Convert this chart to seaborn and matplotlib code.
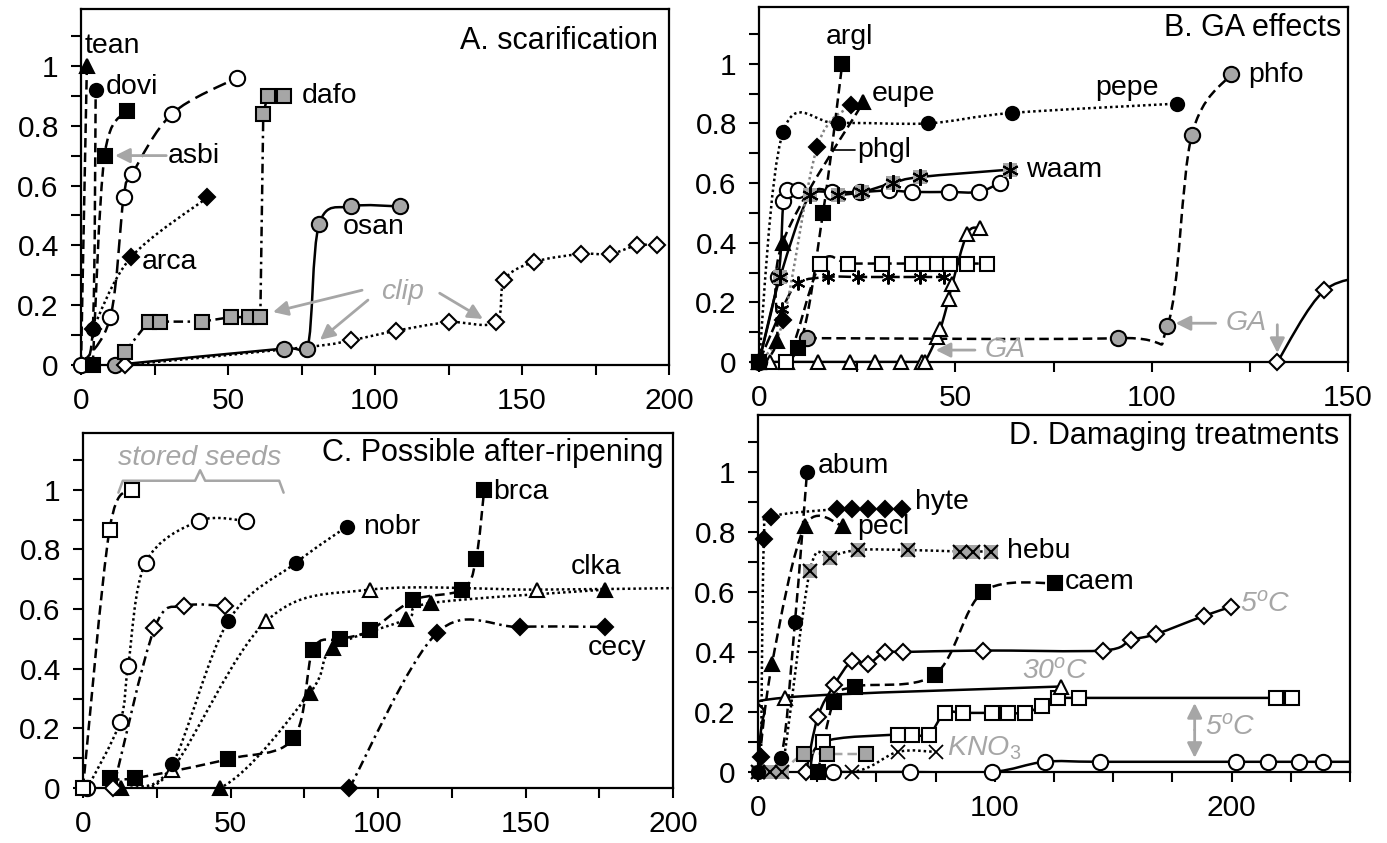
import numpy as np
import matplotlib
matplotlib.use("Agg")
import matplotlib.pyplot as plt
from matplotlib.path import Path
from matplotlib.patches import PathPatch
import seaborn as sns

# ---------------- panel A: scarification ----------------
a_tean_x = [0, 2]
a_tean_y = [0, 1.0]
a_dovi_x = [0, 4, 5]
a_dovi_y = [0, 0.12, 0.92]
a_asbi_x = [4, 8, 15.5]
a_asbi_y = [0, 0.70, 0.85]
a_open_x = [0, 10, 14.5, 17.5, 31, 53]
a_open_y = [0, 0.16, 0.56, 0.64, 0.84, 0.96]
a_arca_x = [4, 17, 43]
a_arca_y = [0.12, 0.36, 0.56]
a_dafo_x = [15, 23, 27, 41, 51, 57, 61, 62, 63.5, 69]
a_dafo_y = [0.045, 0.145, 0.145, 0.145, 0.16, 0.16, 0.16, 0.84, 0.90, 0.90]
a_osan_x = [11.5, 69, 77, 81, 92, 108.5]
a_osan_y = [0, 0.055, 0.055, 0.47, 0.53, 0.53]
a_clip_x = [15, 77, 92, 107, 125, 141, 144, 154, 170, 180, 189, 196]
a_clip_y = [0, 0.06, 0.083, 0.114, 0.143, 0.143, 0.284, 0.344, 0.371, 0.371, 0.40, 0.40]

# ---------------- panel B: GA effects ----------------
b_argl_x = [0, 10, 16.3, 21.2]
b_argl_y = [0, 0.046, 0.50, 1.0]
b_eupe_x = [0, 4.5, 6, 26.5]
b_eupe_y = [0, 0.07, 0.40, 0.87]
b_phgl_x = [0, 6.2, 14.8, 23.5]
b_phgl_y = [0, 0.14, 0.72, 0.86]
b_pepe_x = [0, 6.1, 20.2, 43.1, 64.5, 106.4]
b_pepe_y = [0, 0.77, 0.80, 0.80, 0.835, 0.866]
b_phfo_x = [12.3, 91.3, 104, 110.2, 120.2]
b_phfo_y = [0.08, 0.08, 0.12, 0.76, 0.965]
b_waam_x = [0, 5.4, 13, 20.2, 26.3, 34, 41, 64]
b_waam_y = [0, 0.285, 0.56, 0.56, 0.57, 0.60, 0.62, 0.645]
b_circ_x = [0, 4.9, 6.2, 7.1, 10, 18.5, 25.8, 33.2, 39, 48.3, 55.9, 61.3]
b_circ_y = [0, 0.285, 0.54, 0.575, 0.575, 0.57, 0.57, 0.575, 0.57, 0.57, 0.57, 0.60]
b_sq_x = [0, 7, 15.6, 22.7, 31.4, 39, 42, 45.4, 48.7, 53, 58]
b_sq_y = [0, 0, 0.33, 0.33, 0.33, 0.33, 0.33, 0.33, 0.33, 0.33, 0.33]
b_ast_x = [0, 5.9, 10, 17.6, 25.1, 32.8, 41, 47.1]
b_ast_y = [0, 0.177, 0.265, 0.285, 0.285, 0.285, 0.285, 0.285]
b_tri_x = [0, 2.8, 7.1, 15.1, 23.2, 29.6, 36.2, 41.6, 42.3, 45.4, 46.2, 48.3, 49.2, 53, 56.2]
b_tri_y = [0, 0, 0, 0, 0, 0, 0, 0, 0, 0.085, 0.11, 0.21, 0.26, 0.43, 0.45]
b_dia_x = [132, 144, 158]
b_dia_y = [0, 0.24, 0.29]

# ---------------- panel C: possible after-ripening ----------------
c_sq_x = [0, 9, 16.5]
c_sq_y = [0, 0.866, 1.0]
c_circ_x = [1.5, 12.5, 15.3, 21.2, 39.3, 55.4]
c_circ_y = [0, 0.22, 0.41, 0.755, 0.895, 0.895]
c_dia_x = [10.3, 24.2, 34.4, 48.3]
c_dia_y = [0, 0.535, 0.61, 0.61]
c_nobr_x = [18, 30.3, 49.3, 72.2, 89.4]
c_nobr_y = [0, 0.08, 0.56, 0.755, 0.876]
c_clka_open_x = [16, 30, 62.2, 97.3, 154, 200]
c_clka_open_y = [0, 0.06, 0.56, 0.665, 0.665, 0.67]
c_clka_x = [13, 46.5, 77, 84.8, 109.5, 118, 177]
c_clka_y = [0, 0, 0.32, 0.47, 0.565, 0.62, 0.665]
c_brca_x = [9.2, 17.6, 49.2, 71.3, 78, 87.1, 97.3, 112, 128.5, 133.2, 136]
c_brca_y = [0.033, 0.033, 0.097, 0.166, 0.464, 0.498, 0.528, 0.63, 0.665, 0.766, 1.0]
c_cecy_x = [90.3, 120, 148, 177]
c_cecy_y = [0, 0.52, 0.54, 0.54]

# ---------------- panel D: damaging treatments ----------------
d_abum_x = [0, 9.7, 15.6, 20.7]
d_abum_y = [0, 0.047, 0.50, 1.0]
d_hyte_x = [1.3, 2.5, 5.5, 33.3, 39.7, 46.4, 53.6, 61]
d_hyte_y = [0.05, 0.776, 0.85, 0.876, 0.876, 0.876, 0.876, 0.876]
d_pecl_x = [0, 5.9, 19.8, 35.9]
d_pecl_y = [0, 0.36, 0.82, 0.82]
d_hebu_x = [0, 5, 10, 21.9, 30.4, 42.2, 63.3, 85.2, 90.7, 98.6]
d_hebu_y = [0, 0, 0, 0.67, 0.715, 0.74, 0.74, 0.735, 0.735, 0.735]
d_caem_x = [25.3, 32, 41, 74.7, 95, 125.3]
d_caem_y = [0, 0.235, 0.285, 0.325, 0.60, 0.63]
d_dia_x = [20.3, 25.3, 32.2, 39.7, 46.4, 53.6, 61.2, 95, 145.6, 157.6, 168.2, 188.2, 199.6]
d_dia_y = [0, 0.185, 0.29, 0.37, 0.36, 0.40, 0.40, 0.405, 0.405, 0.44, 0.46, 0.52, 0.55]
d_tri_x = [0, 2.5, 11.4, 128]
d_tri_y = [0, 0.19, 0.248, 0.285]
d_sq_x = [22, 27.4, 59, 65, 72.2, 78.9, 86.5, 98.7, 105.5, 112.7, 120, 126.6, 135.4, 218.6, 225.3]
d_sq_y = [0, 0.10, 0.125, 0.125, 0.125, 0.197, 0.197, 0.197, 0.197, 0.197, 0.22, 0.247, 0.247, 0.247, 0.247]
d_circ_x = [31.6, 64.1, 98.7, 121, 144.3, 202, 215.2, 228.3, 238.4, 250]
d_circ_y = [0, 0, 0, 0.034, 0.034, 0.034, 0.034, 0.034, 0.034, 0.034]
d_kno3_x = [10, 19.4, 29.1, 45.6]
d_kno3_y = [0, 0.06, 0.06, 0.06]
d_x_x = [0, 39.7, 59, 75]
d_x_y = [0, 0, 0.067, 0.067]

# brace over the stored seed curves (panel C)
brace_x = [12, 13.5, 38, 39.7, 41.4, 66.5, 68]
brace_y = [0.99, 1.03, 1.03, 1.065, 1.03, 1.03, 0.99]

GREY = "#a6a6a6"
LW = 1.8
SOLID = "-"
DASH = (0, (3.8, 2))
LDASH = (0, (5.5, 2.6))
DOT = (0, (1, 1.2))
DASHDOT = (0, (3.8, 1.8, 1, 1.8))

MK = {
    "oc": [dict(marker="o", markersize=11, markerfacecolor="white")],
    "bc": [dict(marker="o", markersize=9.5, markerfacecolor="black")],
    "gc": [dict(marker="o", markersize=11, markerfacecolor=GREY)],
    "bs": [dict(marker="s", markersize=10, markerfacecolor="black")],
    "os": [dict(marker="s", markersize=10, markerfacecolor="white")],
    "gs": [dict(marker="s", markersize=10, markerfacecolor=GREY)],
    "bt": [dict(marker="^", markersize=10.5, markerfacecolor="black")],
    "ot": [dict(marker="^", markersize=10.5, markerfacecolor="white")],
    "bd": [dict(marker="D", markersize=8, markerfacecolor="black")],
    "od": [dict(marker="D", markersize=8.5, markerfacecolor="white")],
    "ga": [dict(marker="s", markersize=10, markerfacecolor=GREY, markeredgewidth=0),
           dict(marker=(6, 2, 0), markersize=12)],
    "as": [dict(marker=(6, 2, 0), markersize=10)],
    "gx": [dict(marker="s", markersize=10.5, markerfacecolor=GREY, markeredgewidth=0),
           dict(marker="x", markersize=10)],
    "x": [dict(marker="x", markersize=9.5, markeredgewidth=1.3)],
}

sns.set_theme(style="ticks")
plt.rcParams["font.family"] = ["Liberation Sans", "DejaVu Sans"]
plt.rcParams["mathtext.fontset"] = "custom"
plt.rcParams["mathtext.rm"] = "Liberation Sans"
plt.rcParams["mathtext.it"] = "Liberation Sans:italic"


def bezier(xs, ys):
    # excel style smoothed line: cubic segments through the points
    p = np.column_stack([xs, ys])
    n = len(p)
    verts = [p[0]]
    for i in range(n - 1):
        a, b = p[max(i - 1, 0)], p[i]
        c, d = p[i + 1], p[min(i + 2, n - 1)]
        verts += [b + (c - a) / 6, c - (d - b) / 6, c]
    codes = [Path.MOVETO] + [Path.CURVE4] * (3 * (n - 1))
    return Path(verts, codes)


def draw(ax, xs, ys, ls, mk, smooth=True, lc="black", lw=LW, skip=()):
    xs = np.asarray(xs, float)
    ys = np.asarray(ys, float)
    if smooth and len(xs) > 2:
        ax.add_patch(PathPatch(bezier(xs, ys), fill=False, edgecolor=lc, lw=lw,
                               linestyle=ls, capstyle="butt", zorder=2))
    else:
        sns.lineplot(x=xs, y=ys, ax=ax, color=lc, lw=lw, linestyle=ls,
                     sort=False, estimator=None, zorder=2)
    keep = [i for i in range(len(xs)) if i not in skip and xs[i] <= ax.get_xlim()[1]]
    for spec in MK[mk]:
        kw = dict(markeredgecolor="black", markeredgewidth=1.5)
        kw.update(spec)
        sns.lineplot(x=xs[keep], y=ys[keep], ax=ax, linestyle="none", sort=False,
                     estimator=None, clip_on=False, zorder=3, color="black", **kw)


def lab(ax, x, y, s, ha="left", grey=False, size=20.5):
    ax.text(x, y, s, ha=ha, va="center", fontsize=size,
            color=GREY if grey else "black",
            fontstyle="italic" if grey else "normal", zorder=5)


def arrow(ax, tail, head, style="-|>"):
    ax.annotate("", xy=head, xytext=tail, zorder=4,
                arrowprops=dict(arrowstyle=style, color=GREY, lw=2,
                                mutation_scale=22, shrinkA=0, shrinkB=0))


def style(ax, xmax, step):
    ax.set_xlim(0, xmax)
    ax.set_ylim(0, 1.19)
    xt = np.arange(0, xmax + 1, 25)
    ax.set_xticks(xt)
    ax.set_xticklabels([f"{v:g}" if v % step == 0 else "" for v in xt])
    yt = np.round(np.arange(0, 1.15, 0.1), 1)
    ax.set_yticks(yt)
    ax.set_yticklabels([f"{v:g}" if round(v * 10) % 2 == 0 else "" for v in yt])
    ax.tick_params(direction="out", length=7, width=1.5, labelsize=21.5, pad=9,
                   color="black", labelcolor="black")
    for s in ax.spines.values():
        s.set_visible(True)
        s.set_linewidth(1.6)
        s.set_color("black")
    ax.set_facecolor("white")


fig = plt.figure(figsize=(13.87, 8.43), dpi=100)


def box(l, r, t, b):
    return fig.add_axes([l / 1387, 1 - b / 843, (r - l) / 1387, (b - t) / 843])


axA = box(81, 669, 9, 365)
axB = box(759, 1348, 7, 362)
axC = box(83, 673, 433, 788)
axD = box(758, 1350, 415, 772)
style(axA, 200, 50)
style(axB, 150, 50)
style(axC, 200, 50)
style(axD, 250, 100)

# ---- A ----
draw(axA, a_osan_x, a_osan_y, SOLID, "gc")
draw(axA, a_clip_x, a_clip_y, DOT, "od", skip=(1,))
draw(axA, a_dafo_x, a_dafo_y, DASHDOT, "gs", smooth=False)
draw(axA, a_arca_x, a_arca_y, DOT, "bd")
draw(axA, a_open_x, a_open_y, LDASH, "oc")
draw(axA, a_asbi_x, a_asbi_y, DASH, "bs")
draw(axA, a_dovi_x, a_dovi_y, DASH, "bc", skip=(0,))
draw(axA, a_tean_x, a_tean_y, DASH, "bt", smooth=False, skip=(0,))
lab(axA, 1.2, 1.065, "tean")
lab(axA, 8.5, 0.928, "dovi")
lab(axA, 29.6, 0.70, "asbi")
lab(axA, 75.2, 0.898, "dafo")
lab(axA, 20.7, 0.345, "arca")
lab(axA, 99.7, 0.462, "osan", ha="center")
lab(axA, 109.5, 0.245, "clip", ha="center", grey=True)
lab(axA, 196.3, 1.082, "A. scarification", ha="right", size=22)
arrow(axA, (29, 0.70), (11.6, 0.70))
arrow(axA, (95.6, 0.25), (65.3, 0.177))
arrow(axA, (97.6, 0.217), (81.3, 0.084))
arrow(axA, (122, 0.24), (136.7, 0.154))

# ---- B ----
draw(axB, b_tri_x, b_tri_y, SOLID, "ot")
draw(axB, b_sq_x, b_sq_y, DASH, "os")
draw(axB, b_ast_x, b_ast_y, (0, (5, 1.5)), "as")
draw(axB, b_phfo_x, b_phfo_y, DASH, "gc")
draw(axB, b_circ_x, b_circ_y, SOLID, "oc")
draw(axB, b_waam_x, b_waam_y, SOLID, "ga")
draw(axB, b_pepe_x, b_pepe_y, DOT, "bc")
draw(axB, b_phgl_x, b_phgl_y, DOT, "bd", lc="#808080")
draw(axB, b_eupe_x, b_eupe_y, DASH, "bt")
draw(axB, b_argl_x, b_argl_y, DASH, "bs")
draw(axB, b_dia_x, b_dia_y, SOLID, "od")
lab(axB, 23, 1.09, "argl", ha="center")
lab(axB, 28.8, 0.90, "eupe")
lab(axB, 25, 0.71, "phgl")
axB.plot([18.6, 24.5], [0.71, 0.71], color="black", lw=1.2, zorder=4)
lab(axB, 67.9, 0.645, "waam")
lab(axB, 101.8, 0.92, "pepe", ha="right")
lab(axB, 124.5, 0.963, "phfo")
lab(axB, 148.2, 1.12, "B. GA effects", ha="right", size=22)
lab(axB, 124, 0.13, "GA", ha="center", grey=True)
arrow(axB, (116.3, 0.13), (106.1, 0.13))
arrow(axB, (132, 0.125), (132, 0.03))
lab(axB, 62.8, 0.04, "GA", ha="center", grey=True)
arrow(axB, (55, 0.04), (45, 0.04))

# ---- C ----
draw(axC, c_cecy_x, c_cecy_y, DASHDOT, "bd")
draw(axC, c_clka_x, c_clka_y, DOT, "bt")
draw(axC, c_clka_open_x, c_clka_open_y, DOT, "ot", skip=(0, 5))
draw(axC, c_brca_x, c_brca_y, DASH, "bs")
draw(axC, c_nobr_x, c_nobr_y, DOT, "bc", skip=(0,))
draw(axC, c_dia_x, c_dia_y, DASHDOT, "od")
draw(axC, c_circ_x, c_circ_y, DOT, "oc")
draw(axC, c_sq_x, c_sq_y, DASH, "os")
axC.plot(brace_x, brace_y, color=GREY, lw=1.8, zorder=4)
lab(axC, 39.7, 1.107, "stored seeds", ha="center", grey=True)
lab(axC, 95, 0.876, "nobr")
lab(axC, 139, 0.993, "brca")
lab(axC, 174, 0.74, "clka", ha="center")
lab(axC, 181, 0.468, "cecy", ha="center")
lab(axC, 196.6, 1.124, "C. Possible after-ripening", ha="right", size=22)

# ---- D ----
draw(axD, d_circ_x, d_circ_y, SOLID, "oc", skip=(9,))
draw(axD, d_sq_x, d_sq_y, SOLID, "os", skip=(0,))
draw(axD, d_tri_x, d_tri_y, SOLID, "ot", skip=(0, 1))
draw(axD, d_dia_x, d_dia_y, SOLID, "od")
draw(axD, d_caem_x, d_caem_y, DASH, "bs")
draw(axD, d_x_x, d_x_y, DOT, "x", skip=(0,))
draw(axD, d_kno3_x, d_kno3_y, DASH, "gs", lc=GREY, skip=(0,))
draw(axD, d_hebu_x, d_hebu_y, DOT, "gx")
draw(axD, d_pecl_x, d_pecl_y, DASH, "bt", skip=(0,))
draw(axD, d_hyte_x, d_hyte_y, DOT, "bd")
draw(axD, d_abum_x, d_abum_y, DASH, "bc")
lab(axD, 25.3, 1.02, "abum")
lab(axD, 66.2, 0.90, "hyte")
lab(axD, 41.8, 0.816, "pecl")
lab(axD, 105, 0.736, "hebu")
lab(axD, 129.5, 0.632, "caem")
lab(axD, 203.4, 0.558, "5$^{o}$C", grey=True)
lab(axD, 111.4, 0.334, "30$^{o}$C", grey=True)
lab(axD, 79.7, 0.08, "KNO$_{3}$", grey=True)
lab(axD, 188.6, 0.147, "5$^{o}$C", grey=True)
arrow(axD, (184.4, 0.14), (184.4, 0.23))
arrow(axD, (184.4, 0.14), (184.4, 0.047))
lab(axD, 245.6, 1.12, "D. Damaging treatments", ha="right", size=22)

fig.savefig("out.png", dpi=100, facecolor="white")
